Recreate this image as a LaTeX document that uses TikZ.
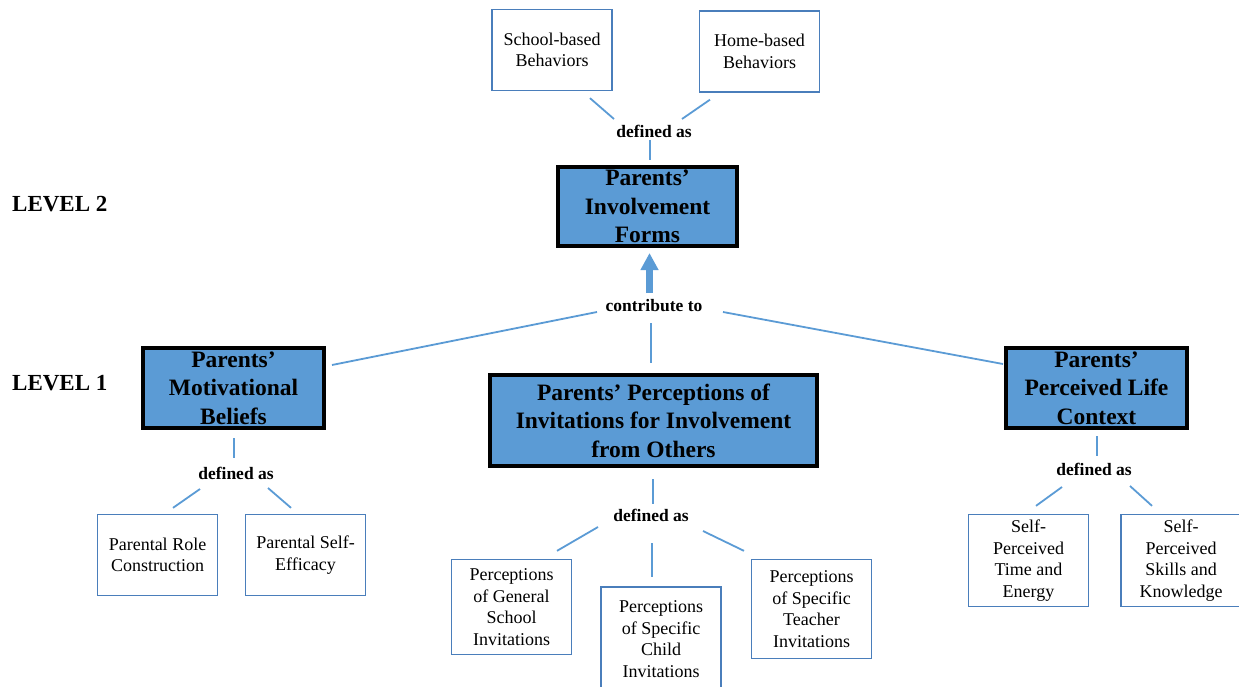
\documentclass[tikz,border=0pt]{standalone}
\usepackage{fontspec}
\setmainfont{Liberation Serif}
\usetikzlibrary{arrows.meta}
\definecolor{boxblue}{RGB}{91,155,213}
\definecolor{edgeblue}{RGB}{74,126,187}

\begin{document}
\begin{tikzpicture}[x=1pt, y=-1pt,
    main/.style={draw=black, line width=4pt, fill=boxblue, align=center, inner sep=0pt,
      font=\bfseries\fontsize{23.5}{28.5}\selectfont},
    sub/.style={draw=edgeblue, line width=1.3pt, fill=white, align=center, inner sep=0pt,
      minimum width=120pt, minimum height=81pt, font=\fontsize{18}{21.5}\selectfont},
    tag/.style={font=\bfseries\fontsize{17.5}{20}\selectfont, inner sep=1pt},
    level/.style={font=\bfseries\fontsize{23}{26}\selectfont, anchor=west, inner sep=0pt},
    link/.style={draw=boxblue, line width=1.8pt}]
  %tikz  levels of parental involvement
    \useasboundingbox (0,0) rectangle (1239,686);
    \clip (0,0) rectangle (1239,686);

    % level 2
    \node[sub] (school) at (552,50) {School-based\\Behaviors};
    \node[sub] (home) at (759.5,51.5) {Home-based\\Behaviors};
    \node[tag] (def1) at (654,131) {defined as};
    \node[main, minimum width=179pt, minimum height=79pt] (forms) at (647.5,206.5) {Parents’\\Involvement\\Forms};
    \node[tag] (contrib) at (654,306) {contribute to};
    \node[level] (lev2) at (12,204) {LEVEL 2};

    % level 1
    \node[level] (lev1) at (12,383) {LEVEL 1};
    \node[main, minimum width=181pt, minimum height=80pt] (mot) at (233.5,388) {Parents’\\Motivational\\Beliefs};
    \node[main, minimum width=327pt, minimum height=91pt] (perc) at (653.5,420.5) {Parents’ Perceptions of\\Invitations for Involvement\\from Others};
    \node[main, minimum width=181pt, minimum height=80pt] (life) at (1096.5,388) {Parents’\\Perceived Life\\Context};

    \node[tag] (defM) at (236,473) {defined as};
    \node[tag] (defP) at (651,515) {defined as};
    \node[tag] (defL) at (1094,469) {defined as};

    \node[sub] (role) at (157.5,555) {Parental Role\\Construction};
    \node[sub] (effic) at (305.5,555) {Parental Self-\\Efficacy};
    \node[sub, minimum height=95pt] (general) at (511.5,607) {Perceptions\\of General\\School\\Invitations};
    \node[sub, minimum height=104pt] (child) at (661,639) {Perceptions\\of Specific\\Child\\Invitations};
    \node[sub, minimum height=99pt] (teacher) at (811.5,609) {Perceptions\\of Specific\\Teacher\\Invitations};
    \node[sub, minimum height=92pt] (time) at (1028.5,560.5) {Self-\\Perceived\\Time and\\Energy};
    \node[sub, minimum height=92pt] (skills) at (1181,560.5) {Self-\\Perceived\\Skills and\\Knowledge};

    \draw[link] ([shift={(38,7)}]school.south) -- ([shift={(-40,-12)}]def1.center);
    \draw[link] ([shift={(-49.5,7)}]home.south) -- ([shift={(28,-12)}]def1.center);
    \draw[link] ([shift={(-4,9)}]def1.center) -- ([shift={(2.5,-5)}]forms.north);
    \draw[link, line width=6.5pt, -{Triangle[length=17pt,width=17pt]}] ([shift={(-4.5,-13)}]contrib.center) -- ([shift={(2,5)}]forms.south);

    \draw[link] ([shift={(-57,6)}]contrib.center) -- ([shift={(6,-23)}]mot.east);
    \draw[link] ([shift={(69,6)}]contrib.center) -- ([shift={(-1,-24)}]life.west);
    \draw[link] ([shift={(-3,17)}]contrib.center) -- ([shift={(-2.5,-10)}]perc.north);

    \draw[link] ([shift={(0.5,8)}]mot.south) -- ([shift={(-2,-15)}]defM.center);
    \draw[link] ([shift={(-36,16)}]defM.center) -- ([shift={(15.5,-6)}]role.north);
    \draw[link] ([shift={(32,15)}]defM.center) -- ([shift={(-14.5,-6)}]effic.north);

    \draw[link] ([shift={(-0.5,11)}]perc.south) -- ([shift={(2,-11)}]defP.center);
    \draw[link] ([shift={(-53,12)}]defP.center) -- ([shift={(45.5,-8)}]general.north);
    \draw[link] ([shift={(1,28)}]defP.center) -- ([shift={(-9,-9)}]child.north);
    \draw[link] ([shift={(52,16)}]defP.center) -- ([shift={(-67.5,-8)}]teacher.north);

    \draw[link] ([shift={(0.5,6)}]life.south) -- ([shift={(3,-13)}]defL.center);
    \draw[link] ([shift={(-32,18)}]defL.center) -- ([shift={(7.5,-8)}]time.north);
    \draw[link] ([shift={(36,17)}]defL.center) -- ([shift={(-29,-8)}]skills.north);
\end{tikzpicture}
\end{document}
